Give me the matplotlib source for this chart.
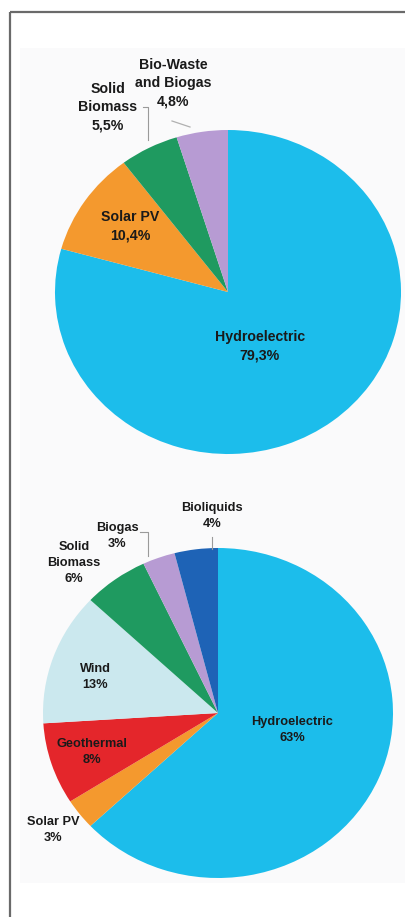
import matplotlib
matplotlib.use("Agg")
import matplotlib.pyplot as plt
from matplotlib.patches import Rectangle

plt.rcParams['font.family'] = ['Liberation Sans', 'DejaVu Sans']

# ---- data ----
top_labels = ["Hydroelectric", "Solar PV", "Solid\nBiomass", "Bio-Waste\nand Biogas"]
top_values = [79.3, 10.4, 5.5, 4.8]

bottom_labels = ["Hydroelectric", "Solar PV", "Geothermal", "Wind",
                 "Solid\nBiomass", "Biogas", "Bioliquids"]
bottom_values = [63, 3, 8, 13, 6, 3, 4]

# ---- styling ----
C = {
    "Hydroelectric": "#1CBDEB",
    "Solar PV": "#F4992E",
    "Solid\nBiomass": "#1F9A60",
    "Bio-Waste\nand Biogas": "#B79BD3",
    "Biogas": "#B79BD3",
    "Geothermal": "#E4262B",
    "Wind": "#CBE8EE",
    "Bioliquids": "#1E63B6",
}
TXT = "#1a1a1a"
W, H = 405, 917

fig = plt.figure(figsize=(W / 100, H / 100), dpi=100)
fig.patch.set_facecolor("white")


def pixel_axes():
    a = fig.add_axes([0, 0, 1, 1])
    a.set_xlim(0, W)
    a.set_ylim(H, 0)
    a.axis("off")
    a.patch.set_alpha(0)
    return a


# background layer: frame and faint panel
bg = pixel_axes()
bg.add_patch(Rectangle((20, 48), 385, 835, facecolor="#FAFAFB", edgecolor="none", zorder=0))
bg.plot([9.5, 9.5], [H, 12], color="#6a6a6a", lw=1.6, zorder=1, solid_capstyle="butt")
bg.plot([9.5, W], [12, 12], color="#6a6a6a", lw=1.6, zorder=1, solid_capstyle="butt")


def pie_axes(cx, cy, rx, ry):
    return fig.add_axes([(cx - rx) / W, (H - (cy + ry)) / H, 2 * rx / W, 2 * ry / H])


def fmt(v):
    s = f"{v:.1f}".replace(".", ",") if v != int(v) else f"{int(v)}"
    return s + "%"


def draw_pie(ax, labels, values):
    ax.pie(values, colors=[C[l] for l in labels], startangle=90,
           counterclock=False, wedgeprops=dict(linewidth=0))
    ax.set_aspect("auto")
    ax.set_xlim(-1, 1)
    ax.set_ylim(-1, 1)
    ax.axis("off")


ax1 = pie_axes(228, 292, 173, 162)
draw_pie(ax1, top_labels, top_values)
ax2 = pie_axes(218, 713, 175, 165)
draw_pie(ax2, bottom_labels, bottom_values)

# label layer on top of the pies
fg = pixel_axes()

top_pos = [(260, 346), (130, 226), (108, 107), (173, 83)]
for lab, val, (px, py) in zip(top_labels, top_values, top_pos):
    fg.text(px, py, f"{lab}\n{fmt(val)}", ha="center", va="center",
            fontsize=10.2, fontweight="bold", color=TXT, linespacing=1.4, zorder=5)
fg.plot([143, 148, 148], [107, 107, 140], color="#9a9a9a", lw=0.8, zorder=4)
fg.plot([172, 190], [121, 127], color="#b0b0b0", lw=0.9, zorder=4)

bot_pos = [(292, 730), (53, 830), (92, 752), (95, 677), (74, 563), (117, 536), (212, 516)]
for lab, val, (px, py) in zip(bottom_labels, bottom_values, bot_pos):
    fg.text(px, py, f"{lab}\n{fmt(val)}", ha="center", va="center",
            fontsize=9.2, fontweight="bold", color=TXT, linespacing=1.5, zorder=5)
fg.plot([140, 148, 148], [532, 532, 556], color="#9a9a9a", lw=0.8, zorder=4)
fg.plot([212, 212], [537, 549], color="#9a9a9a", lw=0.8, zorder=4)

fig.savefig("out.png", dpi=100)
